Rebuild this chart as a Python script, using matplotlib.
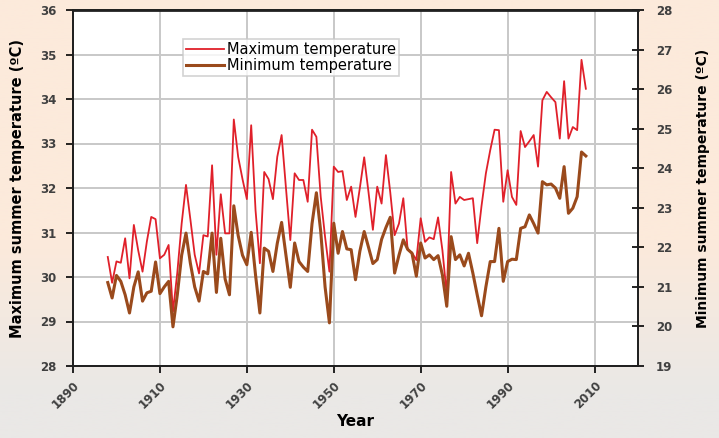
import numpy as np
import matplotlib
matplotlib.use("Agg")
import matplotlib.pyplot as plt

years = list(range(1898, 2009))

max_temp = [
    30.45, 29.87, 30.35, 30.32, 30.87, 29.97, 31.17, 30.60, 30.12, 30.80,  # 1898-1907
    31.35, 31.30, 30.42, 30.50, 30.72, 29.22, 30.10, 31.20, 32.07, 31.30,  # 1908-1917
    30.50, 30.08, 30.94, 30.91, 32.51, 30.50, 31.86, 30.98, 30.98, 33.54,  # 1918-1927
    32.70, 32.20, 31.75, 33.41, 31.50, 30.31, 32.36, 32.20, 31.75, 32.70,  # 1928-1937
    33.19, 32.00, 30.83, 32.33, 32.18, 32.18, 31.69, 33.31, 33.15, 31.80,  # 1938-1947
    30.90, 30.12, 32.48, 32.36, 32.38, 31.73, 32.03, 31.35, 32.00, 32.69,  # 1948-1957
    31.90, 31.06, 32.03, 31.65, 32.74, 31.90, 30.94, 31.20, 31.77, 30.61,  # 1958-1967
    30.55, 30.38, 31.32, 30.79, 30.89, 30.85, 31.34, 30.60, 29.60, 32.36,  # 1968-1977
    31.65, 31.80, 31.73, 31.75, 31.77, 30.76, 31.60, 32.33, 32.85, 33.31,  # 1978-1987
    33.30, 31.69, 32.40, 31.80, 31.62, 33.28, 32.92, 33.05, 33.19, 32.48,  # 1988-1997
    33.97, 34.16, 34.04, 33.93, 33.11, 34.40, 33.11, 33.37, 33.30, 34.88,  # 1998-2007
    34.23,                                                                 # 2008
]

min_temp = [
    21.11, 20.72, 21.29, 21.14, 20.80, 20.34, 21.00, 21.38, 20.64, 20.85,  # 1898-1907
    20.89, 21.63, 20.83, 21.00, 21.14, 19.99, 20.80, 21.80, 22.36, 21.60,  # 1908-1917
    21.00, 20.64, 21.39, 21.33, 22.36, 20.86, 22.23, 21.20, 20.80, 23.05,  # 1918-1927
    22.30, 21.80, 21.56, 22.38, 21.30, 20.34, 21.98, 21.90, 21.39, 22.10,  # 1928-1937
    22.63, 21.80, 20.99, 22.11, 21.64, 21.50, 21.39, 22.60, 23.38, 22.40,  # 1938-1947
    21.00, 20.09, 22.61, 21.85, 22.40, 21.96, 21.94, 21.18, 21.90, 22.40,  # 1948-1957
    22.00, 21.59, 21.69, 22.20, 22.50, 22.76, 21.35, 21.80, 22.19, 21.95,  # 1958-1967
    21.85, 21.27, 22.11, 21.73, 21.81, 21.69, 21.79, 21.30, 20.51, 22.27,  # 1968-1977
    21.69, 21.81, 21.53, 21.85, 21.35, 20.80, 20.27, 21.00, 21.64, 21.64,  # 1978-1987
    22.48, 21.14, 21.64, 21.70, 21.69, 22.48, 22.52, 22.82, 22.60, 22.36,  # 1988-1997
    23.66, 23.58, 23.60, 23.50, 23.24, 24.04, 22.86, 22.99, 23.28, 24.41,  # 1998-2007
    24.31,                                                                 # 2008
]

x_ticks = [1890, 1910, 1930, 1950, 1970, 1990, 2010]
left_ticks = [28, 29, 30, 31, 32, 33, 34, 35, 36]
right_ticks = [19, 20, 21, 22, 23, 24, 25, 26, 27, 28]

W, H = 719, 438
fig = plt.figure(figsize=(W / 100, H / 100), dpi=100)

# background gradient (peach at top to light gray at bottom)
bg = fig.add_axes([0, 0, 1, 1], zorder=-10)
top = np.array([252, 234, 219]) / 255
bot = np.array([234, 232, 230]) / 255
t2 = np.clip((np.linspace(0, 1, 256) - 0.55) / 0.35, 0, 1)[:, None]
grad = top[None, :] * (1 - t2) + bot[None, :] * t2
bg.imshow(grad[:, None, :], aspect="auto", extent=[0, 1, 0, 1])
bg.set_axis_off()

ax = fig.add_axes([73 / W, 1 - 366 / H, (638 - 73) / W, (366 - 10) / H])
ax.set_facecolor("white")
ax2 = ax.twinx()

ax.set_xlim(1890, 2020)
ax.set_ylim(28, 36)
ax2.set_ylim(19, 28)

ax.set_xticks(x_ticks)
ax.set_yticks(left_ticks)
ax2.set_yticks(right_ticks)

ax.grid(True, color="#c8c8c8", linewidth=1.4)
ax.set_axisbelow(True)

l1, = ax.plot(years, max_temp, color="#e0202a", linewidth=1.3,
              label="Maximum temperature", zorder=3)
l2, = ax2.plot(years, min_temp, color="#9a4a1c", linewidth=2.2,
               label="Minimum temperature", zorder=2)

tick_color = "#404040"
ax.tick_params(axis="y", direction="out", length=5, width=1.2,
               labelsize=8.5, labelcolor=tick_color, pad=7)
ax.tick_params(axis="x", direction="out", length=5, width=1.2,
               labelsize=8.5, labelcolor=tick_color, pad=4)
ax2.tick_params(axis="y", direction="inout", length=8, width=1.2,
                labelsize=8.5, labelcolor=tick_color, pad=9)
for lab in ax.get_xticklabels():
    lab.set_rotation(45)
    lab.set_ha("right")
    lab.set_rotation_mode("anchor")
    lab.set_fontweight("bold")
for lab in ax.get_yticklabels() + ax2.get_yticklabels():
    lab.set_fontweight("bold")

for a in (ax, ax2):
    for s in a.spines.values():
        s.set_color("#202020")
        s.set_linewidth(1.3)
ax2.spines["top"].set_linewidth(2)

ax.set_ylabel("Maximum summer temperature (ºC)", fontsize=10.5,
              fontweight="bold")
ax2.set_ylabel("Minimum summer temperature (ºC)", fontsize=10,
               fontweight="bold")
ax.set_xlabel("Year", fontsize=11, fontweight="bold", labelpad=2)
ax.yaxis.set_label_coords(-0.085, 0.5)
ax2.yaxis.set_label_coords(1.103, 0.5)

leg = ax.legend(handles=[l1, l2], loc="upper left",
                bbox_to_anchor=((183 - 73) / (638 - 73), 1 - (39 - 10) / (366 - 10)),
                frameon=True, fancybox=False, fontsize=10.5,
                handlelength=2.6, handletextpad=0.2, borderpad=0.2,
                labelspacing=0.1, borderaxespad=0)
leg.get_frame().set_edgecolor("#c8c8c8")
leg.get_frame().set_linewidth(1.2)
leg.set_zorder(10)

fig.savefig("out.png", dpi=100)
